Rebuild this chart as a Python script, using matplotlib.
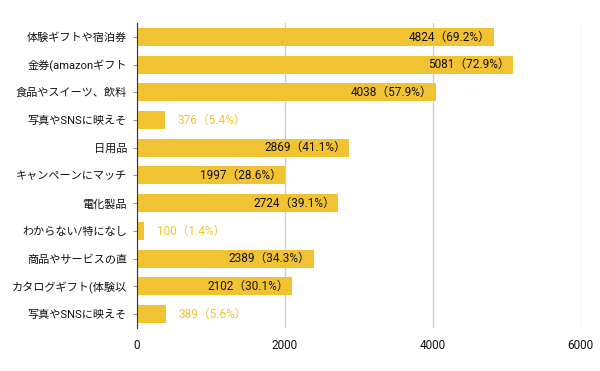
import matplotlib
matplotlib.use("Agg")
import matplotlib.pyplot as plt

plt.rcParams['font.family'] = ['Roboto', 'Noto Sans CJK JP', 'DejaVu Sans']

# data
categories = ["体験ギフトや宿泊券", "金券(amazonギフト", "食品やスイーツ、飲料",
              "写真やSNSに映えそ", "日用品", "キャンペーンにマッチ", "電化製品",
              "わからない/特になし", "商品やサービスの直", "カタログギフト(体験以",
              "写真やSNSに映えそ"]
values = [4824, 5081, 4038, 376, 2869, 1997, 2724, 100, 2389, 2102, 389]
percents = [69.2, 72.9, 57.9, 5.4, 41.1, 28.6, 39.1, 1.4, 34.3, 30.1, 5.6]

bar_color = "#f1c232"

fig = plt.figure(figsize=(6, 3.71), dpi=100)
ax = fig.add_axes([0.228, 0.116, 0.74, 0.822])

y = list(range(len(categories)))
ax.barh(y, values, height=0.65, color=bar_color, zorder=3)

for yi, v, p in zip(y, values, percents):
    label = f"{v}（{p}%）"
    if v > 1000:
        ax.text(v - 40, yi, label, ha="right", va="center", fontsize=8.5,
                color="#111111", zorder=4)
    else:
        ax.text(v + 170, yi, label, ha="left", va="center", fontsize=8.5,
                color=bar_color, zorder=4)

ax.set_xlim(0, 6000)
ax.set_ylim(len(categories) - 0.5, -0.5)
ax.set_xticks([0, 2000, 4000, 6000])
ax.set_yticks(y)
ax.set_yticklabels(categories, fontsize=8, color="#111111")
ax.tick_params(axis="x", length=0, labelsize=8.5, labelcolor="#111111", pad=8)
ax.tick_params(axis="y", length=3, color="#999999", pad=4)

ax.grid(axis="x", color="#cccccc", linewidth=1, zorder=0)
for s in ["top", "right", "bottom"]:
    ax.spines[s].set_visible(False)
ax.spines["left"].set_color("#333333")
ax.spines["left"].set_zorder(5)

fig.savefig("out.png", dpi=100)
